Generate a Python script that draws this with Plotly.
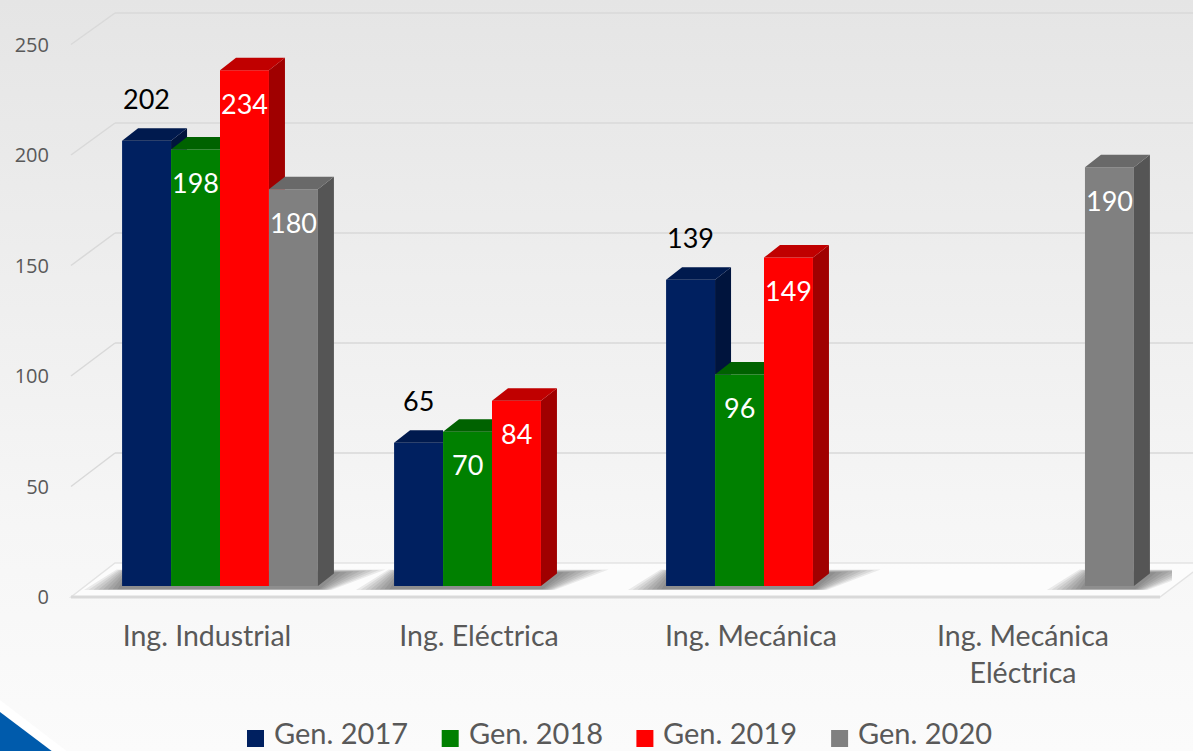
import base64
import plotly.graph_objects as go

# ---------------- data ----------------
categories = ["Ing. Industrial", "Ing. Eléctrica", "Ing. Mecánica", "Ing. Mecánica<br>Eléctrica"]
series_names = ["Gen. 2017", "Gen. 2018", "Gen. 2019", "Gen. 2020"]
gen_2017 = [202, 65, 139, None]
gen_2018 = [198, 70, 96, None]
gen_2019 = [234, 84, 149, None]
gen_2020 = [180, None, None, 190]
y_ticks = [0, 50, 100, 150, 200, 250]

series = [gen_2017, gen_2018, gen_2019, gen_2020]

# ---------------- styles ----------------
front_colors = ["#002060", "#008000", "#FF0000", "#808080"]
top_colors = ["#001a4e", "#006200", "#C00000", "#696969"]
side_colors = ["#00143d", "#004f00", "#A00000", "#555555"]
label_colors = ["#000000", "#ffffff", "#ffffff", "#ffffff"]
label_outside = [True, False, False, False]
TEXT_GREY = "#595959"

W, H = 1193, 751
PL, PR = 84, 1172      # plot area, pixels (x)
PT, PB = 5, 600        # plot area, pixels (y)
XR = [-0.5, 3.5]

BAR_P0, BAR_K = 586, 2.204     # bar plane: pixel of 0, pixels per unit
FRONT_P0, FRONT_K = 597, 2.21  # front plane (tick labels)
BACK_P0, BACK_K = 563, 2.2     # back wall (gridlines)
FRONT_X, BACK_X = 71, 115

BARGAP = 0.28
n = len(series)
bw = (1 - BARGAP) / n
UNIT_PX = (PR - PL) / (XR[1] - XR[0])
DX = 16 / UNIT_PX
DY = 12.5 / BAR_K


def rng(p0, k):
    return [(p0 - PB) / k, (p0 - PT) / k]


def px_x(px):
    return (px - PL) / (PR - PL)


def px_y(py):
    return (PB - py) / (PB - PT)


fig = go.Figure()

# front faces (bars)
for k, (name, vals) in enumerate(zip(series_names, series)):
    fig.add_trace(go.Bar(
        x=list(range(len(categories))), y=vals, name=name,
        marker=dict(color=front_colors[k], line=dict(width=0)),
        showlegend=False, hovertemplate="%{y}<extra>" + name + "</extra>",
    ))

# 3D side and top faces, computed from the values
for k, vals in enumerate(series):
    sx, sy, tx, ty = [], [], [], []
    for i, v in enumerate(vals):
        if v is None:
            continue
        xl = i - (1 - BARGAP) / 2 + k * bw
        xr = xl + bw
        vn = series[k + 1][i] if k + 1 < n else None
        vn = vn or 0
        if v > vn:
            b_front = vn
            b_back = max(vn, DY)
            sx += [xr, xr, xr + DX, xr + DX, xr, None]
            sy += [b_front, v, v + DY, b_back, b_front, None]
            tx += [xl, xl + DX, xr + DX, xr, xl, None]
            ty += [v, v + DY, v + DY, v, v, None]
        else:
            tx += [xl, xl + DX, xr, xr, xl, None]
            ty += [v, v + DY, v + DY, v, v, None]
    fig.add_trace(go.Scatter(x=sx, y=sy, mode="lines", fill="toself",
                             fillcolor=side_colors[k], line=dict(width=0),
                             hoverinfo="skip", showlegend=False))
    fig.add_trace(go.Scatter(x=tx, y=ty, mode="lines", fill="toself",
                             fillcolor=top_colors[k], line=dict(width=0),
                             hoverinfo="skip", showlegend=False))

# trace on the front-plane axis so it is drawn
fig.add_trace(go.Scatter(x=[0], y=[0], yaxis="y2", mode="markers",
                         marker=dict(opacity=0), hoverinfo="skip", showlegend=False))

# data labels
annotations = []
for k, vals in enumerate(series):
    for i, v in enumerate(vals):
        if v is None:
            continue
        xc = i - (1 - BARGAP) / 2 + (k + 0.5) * bw
        annotations.append(dict(
            x=xc, y=v, xref="x", yref="y", text=str(v), showarrow=False,
            yshift=42 if label_outside[k] else -33,
            font=dict(family="Lato, Carlito, sans-serif", size=27, color=label_colors[k]),
        ))

# background, walls, floor
shapes = []
GRID = "#d9d9d9"
floor_path = "M {} {} L {} {} L {} {} L {} {} Z".format(
    px_x(FRONT_X), px_y(FRONT_P0), px_x(BACK_X), px_y(BACK_P0),
    px_x(1205), px_y(BACK_P0), px_x(1160), px_y(FRONT_P0))
shapes.append(dict(type="path", path=floor_path, xref="paper", yref="paper",
                   fillcolor="rgba(255,255,255,0.6)", line=dict(color="#e3e3e3", width=1.5),
                   layer="below"))
for t in y_ticks[1:]:
    yf = px_y(FRONT_P0 - FRONT_K * t)
    yb = px_y(BACK_P0 - BACK_K * t)
    shapes.append(dict(type="line", xref="paper", yref="paper",
                       x0=px_x(FRONT_X), y0=yf, x1=px_x(BACK_X), y1=yb,
                       line=dict(color=GRID, width=1.5), layer="below"))
    shapes.append(dict(type="line", xref="paper", yref="paper",
                       x0=px_x(BACK_X), y0=yb, x1=px_x(W + 5), y1=yb,
                       line=dict(color=GRID, width=1.5), layer="below"))
# floor front edge
shapes.append(dict(type="line", xref="paper", yref="paper",
                   x0=px_x(FRONT_X), y0=px_y(FRONT_P0), x1=px_x(1160), y1=px_y(FRONT_P0),
                   line=dict(color=GRID, width=3), layer="below"))
# soft shadows under the bar groups (stacked translucent layers)
for i in range(len(categories)):
    ks = [k for k in range(n) if series[k][i] is not None]
    gl = i - (1 - BARGAP) / 2 + min(ks) * bw
    gr = i - (1 - BARGAP) / 2 + (max(ks) + 1) * bw
    steps = 8
    for s in range(steps):
        f = 1 - s / steps
        path = "M {} {} L {} {} L {} {} L {} {} Z".format(
            gl - 0.14 * f, -1.8 + 0.4 * (1 - f),
            gl - 0.02 * f + 0.03 * (1 - f), 7.5 - 1.5 * (1 - f),
            gr + DX + 0.19 * f, 7.5 - 1.5 * (1 - f),
            gr + 0.05 * f, -1.8 + 0.4 * (1 - f))
        shapes.append(dict(type="path", path=path, xref="x", yref="y",
                           fillcolor="rgba(30,30,30,0.08)",
                           line=dict(width=0), layer="below"))
# slide decoration (bottom-left corner)
shapes.append(dict(type="path", xref="paper", yref="paper",
                   path="M {} {} L {} {} L {} {} Z".format(px_x(0), px_y(700), px_x(68), px_y(752), px_x(0), px_y(752)),
                   fillcolor="#ffffff", line=dict(width=0)))
shapes.append(dict(type="path", xref="paper", yref="paper",
                   path="M {} {} L {} {} L {} {} Z".format(px_x(0), px_y(712), px_x(53), px_y(752), px_x(0), px_y(752)),
                   fillcolor="#005bac", line=dict(width=0)))

# legend drawn as squares + text
LEG_X0, LEG_STEP, LEG_SQ, LEG_SQ_CY, LEG_TXT_CY = 247, 194.7, 17, 738.5, 732
for k, name in enumerate(series_names):
    x0 = LEG_X0 + k * LEG_STEP
    shapes.append(dict(type="rect", xref="paper", yref="paper",
                       x0=px_x(x0), x1=px_x(x0 + LEG_SQ),
                       y0=px_y(LEG_SQ_CY - LEG_SQ / 2), y1=px_y(LEG_SQ_CY + LEG_SQ / 2),
                       fillcolor=front_colors[k], line=dict(width=0)))
    annotations.append(dict(x=px_x(x0 + LEG_SQ + 8), y=px_y(LEG_TXT_CY), xref="paper", yref="paper",
                            xanchor="left", yanchor="middle", text=name, showarrow=False,
                            font=dict(family="Lato, sans-serif", size=29, color=TEXT_GREY)))

svg = ('<svg xmlns="http://www.w3.org/2000/svg" width="{w}" height="{h}" preserveAspectRatio="none">'
       '<defs><linearGradient id="g" x1="0" y1="0" x2="0" y2="1">'
       '<stop offset="0" stop-color="#e5e5e5"/><stop offset="0.7" stop-color="#f6f6f6"/>'
       '<stop offset="1" stop-color="#fbfbfb"/></linearGradient></defs>'
       '<rect width="100%" height="100%" fill="url(#g)"/></svg>').format(w=W, h=H)
bg_src = "data:image/svg+xml;base64," + base64.b64encode(svg.encode()).decode()

fig.update_layout(
    width=W, height=H,
    margin=dict(l=PL, r=W - PR, t=PT, b=H - PB, pad=0, autoexpand=False),
    paper_bgcolor="#fbfbfb", plot_bgcolor="rgba(0,0,0,0)",
    barmode="group", bargap=BARGAP, bargroupgap=0,
    images=[dict(source=bg_src, xref="paper", yref="paper", x=px_x(0), y=px_y(0),
                 sizex=W / (PR - PL), sizey=H / (PB - PT), xanchor="left", yanchor="top",
                 sizing="stretch", layer="below")],
    xaxis=dict(range=XR, tickvals=list(range(len(categories))), ticktext=categories,
               showgrid=False, zeroline=False, showline=False, ticks="",
               tickfont=dict(family="Lato, sans-serif", size=28.5, color=TEXT_GREY),
               ticklabelshift=-13, ticklabelstandoff=16, fixedrange=True),
    yaxis=dict(range=rng(BAR_P0, BAR_K), visible=False, fixedrange=True),
    yaxis2=dict(range=rng(FRONT_P0, FRONT_K), overlaying="y", side="left",
                tickvals=y_ticks, showgrid=False, zeroline=False, showline=False, ticks="",
                tickfont=dict(family="Open Sans, sans-serif", size=20, color=TEXT_GREY),
                ticklabelstandoff=34, fixedrange=True),
    annotations=annotations,
    shapes=shapes,
    showlegend=False,
)

fig.write_html("out.html", config={"displayModeBar": False},
               post_script="document.body.style.margin='0';document.body.style.overflow='hidden';")
